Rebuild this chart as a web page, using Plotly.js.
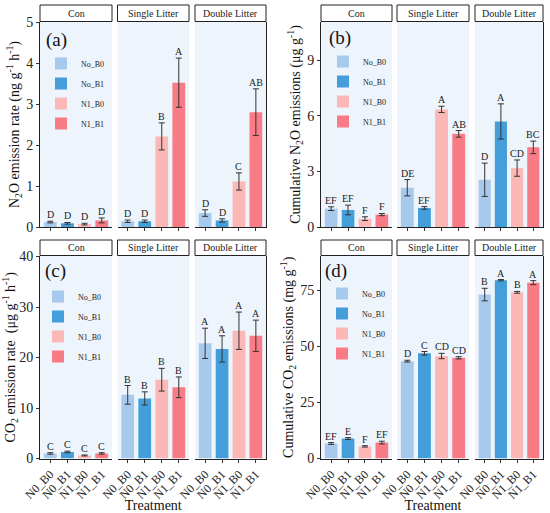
<!DOCTYPE html>
<html>
<head>
<meta charset="utf-8">
<script src="https://cdn.plot.ly/plotly-3.0.1.min.js"></script>
<style>html,body{margin:0;padding:0;background:#fff}#chart{width:550px;height:513px}</style>
</head>
<body>
<div id="chart"></div>
<script>
// ---------- data ----------
const categories = ['N0_B0', 'N0_B1', 'N1_B0', 'N1_B1'];
const seriesNames = ['No_B0', 'No_B1', 'N1_B0', 'N1_B1'];
const facets = ['Con', 'Single Litter', 'Double Litter'];

const n2oRateMean = [[0.12, 0.09, 0.07, 0.16], [0.14, 0.14, 2.21, 3.52], [0.34, 0.16, 1.11, 2.80]];
const n2oRateErr = [[0.02, 0.02, 0.02, 0.06], [0.03, 0.03, 0.33, 0.60], [0.08, 0.04, 0.21, 0.57]];
const n2oRateLetters = [['D', 'D', 'D', 'D'], ['D', 'D', 'B', 'A'], ['D', 'D', 'C', 'AB']];

const n2oCumMean = [[0.99, 0.92, 0.45, 0.67], [2.12, 1.03, 6.35, 5.03], [2.55, 5.70, 3.18, 4.30]];
const n2oCumErr = [[0.10, 0.26, 0.10, 0.06], [0.44, 0.07, 0.17, 0.18], [0.90, 0.95, 0.44, 0.34]];
const n2oCumLetters = [['EF', 'EF', 'F', 'F'], ['DE', 'EF', 'A', 'AB'], ['D', 'A', 'CD', 'BC']];

const co2RateMean = [[1.0, 1.3, 0.6, 1.0], [12.6, 11.9, 15.6, 14.1], [22.8, 21.7, 25.3, 24.3]];
const co2RateErr = [[0.15, 0.15, 0.1, 0.15], [1.85, 1.3, 2.25, 2.05], [3.0, 2.6, 3.7, 3.1]];
const co2RateLetters = [['C', 'C', 'C', 'C'], ['B', 'B', 'B', 'B'], ['A', 'A', 'A', 'A']];

const co2CumMean = [[6.7, 8.9, 5.4, 7.1], [43.4, 46.9, 45.7, 44.9], [73.1, 79.5, 74.1, 78.4]];
const co2CumErr = [[0.4, 0.4, 0.3, 0.6], [0.4, 0.8, 1.2, 0.5], [2.8, 0.3, 0.4, 0.9]];
const co2CumLetters = [['EF', 'E', 'F', 'EF'], ['D', 'C', 'CD', 'CD'], ['B', 'A', 'B', 'A']];

const panelTags = ['(a)', '(b)', '(c)', '(d)'];
const yTitles = [
  'N<sub>2</sub>O emission rate (ng g<sup>-1</sup> h<sup>-1</sup>)',
  'Cumulative N<sub>2</sub>O emissions (μg g<sup>-1</sup>)',
  'CO<sub>2</sub> emission rate  (μg g<sup>-1</sup> h<sup>-1</sup>)',
  'Cumulative CO<sub>2</sub> emissions (mg g<sup>-1</sup>)'
];
const yTicks = [[0, 1, 2, 3, 4, 5], [0, 3, 6, 9], [0, 10, 20, 30, 40], [0, 25, 50, 75]];
const xTitle = 'Treatment';

// ---------- styling / layout ----------
const colors = ['#a7c9ec', '#439ed9', '#fbb8b6', '#f97b85'];
const FONT = "'Liberation Serif', 'Times New Roman', serif";
const W = 550, H = 513;
const panels = [
  { mean: n2oRateMean, err: n2oRateErr, letters: n2oRateLetters, yr: [0, 5.0] },
  { mean: n2oCumMean, err: n2oCumErr, letters: n2oCumLetters, yr: [0, 11.07] },
  { mean: co2RateMean, err: co2RateErr, letters: co2RateLetters, yr: [0, 40.1] },
  { mean: co2CumMean, err: co2CumErr, letters: co2CumLetters, yr: [0, 90.3] }
];
const colX = [
  [[40, 112], [117.5, 189], [195, 266]],
  [[321, 392], [397, 469], [475, 543]]
];
const rowY = [[22, 227], [256, 458.5]];
const stripY = [[5, 21.5], [240, 255.5]];
const tagPos = [[44, 40], [327, 38], [43, 271], [323, 271]];
const legendPos = [[41, 49], [323, 47], [38, 282], [322, 279]];

const px = v => v / W;
const py = v => 1 - v / H;
const sfx = i => (i === 1 ? '' : String(i));

const data = [];
const layout = {
  width: W, height: H,
  margin: { l: 0, r: 0, t: 0, b: 0 },
  paper_bgcolor: '#ffffff',
  plot_bgcolor: '#eef4fc',
  barmode: 'overlay',
  font: { family: FONT, color: '#111' },
  annotations: [],
  shapes: []
};

panels.forEach((P, p) => {
  const row = Math.floor(p / 2), col = p % 2;
  const legName = p === 0 ? 'legend' : 'legend' + (p + 1);
  facets.forEach((fname, f) => {
    const i = p * 3 + f + 1;
    const xid = 'x' + sfx(i), yid = 'y' + sfx(i);
    const xa = 'xaxis' + sfx(i), ya = 'yaxis' + sfx(i);
    const [x0, x1] = colX[col][f];
    const [yt, yb] = rowY[row];
    const firstY = 'y' + sfx(p * 3 + 1);
    layout[xa] = {
      domain: [px(x0), px(x1)],
      anchor: yid,
      type: 'category',
      categoryorder: 'array', categoryarray: categories,
      range: [-0.6, 3.6],
      showline: true, linecolor: '#222', linewidth: 1,
      ticks: 'outside', ticklen: 3, tickcolor: '#333', tickwidth: 1,
      showgrid: false, zeroline: false,
      showticklabels: row === 1,
      tickangle: -45,
      tickfont: { family: FONT, size: 12, color: '#222' },
      fixedrange: true
    };
    if (row === 1 && f === 1) {
      layout[xa].title = { text: xTitle, font: { family: FONT, size: 14, color: '#111' }, standoff: 4 };
    }
    layout[ya] = {
      domain: [py(yb), py(yt)],
      anchor: xid,
      range: P.yr,
      tickvals: yTicks[p],
      showgrid: false, zeroline: false,
      fixedrange: true
    };
    if (f === 0) {
      Object.assign(layout[ya], {
        showline: true, linecolor: '#222', linewidth: 1,
        ticks: 'outside', ticklen: 3, tickcolor: '#333',
        tickfont: { family: FONT, size: 14, color: '#222' },
        title: { text: yTitles[p], font: { family: FONT, size: 14, color: '#111' }, standoff: 3 }
      });
    } else {
      layout[ya].matches = firstY;
      layout[ya].showticklabels = false;
      layout[ya].ticks = '';
      if (f === 2) {
        layout[ya].side = 'right';
        layout[ya].showline = true;
        layout[ya].linecolor = '#222';
        layout[ya].linewidth = 1;
      }
    }
    seriesNames.forEach((sname, s) => {
      data.push({
        type: 'bar',
        x: [categories[s]],
        y: [P.mean[f][s]],
        width: 0.75,
        name: sname,
        legend: legName,
        legendgroup: 'g' + p + '_' + s,
        showlegend: f === 0,
        marker: { color: colors[s], line: { width: 0 } },
        error_y: { type: 'data', array: [P.err[f][s]], visible: true, color: '#333', thickness: 1, width: 3 },
        xaxis: xid, yaxis: yid,
        hoverinfo: 'skip'
      });
      layout.annotations.push({
        xref: xid, yref: yid,
        x: categories[s], y: P.mean[f][s] + P.err[f][s],
        text: P.letters[f][s],
        showarrow: false, yanchor: 'bottom', yshift: -1,
        font: { family: FONT, size: 10, color: '#222' }
      });
    });
    const [st, sb] = stripY[row];
    layout.shapes.push({
      type: 'rect', xref: 'paper', yref: 'paper',
      x0: px(x0), x1: px(x1), y0: py(sb), y1: py(st),
      fillcolor: '#ffffff', line: { color: '#222', width: 1 }
    });
    layout.annotations.push({
      xref: 'paper', yref: 'paper',
      x: px((x0 + x1) / 2), y: py((st + sb) / 2),
      xanchor: 'center', yanchor: 'middle',
      text: fname, showarrow: false,
      font: { family: FONT, size: 10, color: '#222' }
    });
  });
  layout.annotations.push({
    xref: 'paper', yref: 'paper',
    x: px(tagPos[p][0]), y: py(tagPos[p][1]),
    xanchor: 'left', yanchor: 'middle',
    text: panelTags[p], showarrow: false,
    font: { family: FONT, size: 19, color: '#111' }
  });
  layout[legName] = {
    x: px(legendPos[p][0]), y: py(legendPos[p][1]),
    xanchor: 'left', yanchor: 'top',
    bgcolor: 'rgba(0,0,0,0)', borderwidth: 0,
    traceorder: 'grouped', tracegroupgap: 1,
    font: { family: FONT, size: 8, color: '#222' },
    itemclick: false, itemdoubleclick: false
  };
});

Plotly.newPlot('chart', data, layout, { displayModeBar: false, staticPlot: true });
</script>
</body>
</html>
